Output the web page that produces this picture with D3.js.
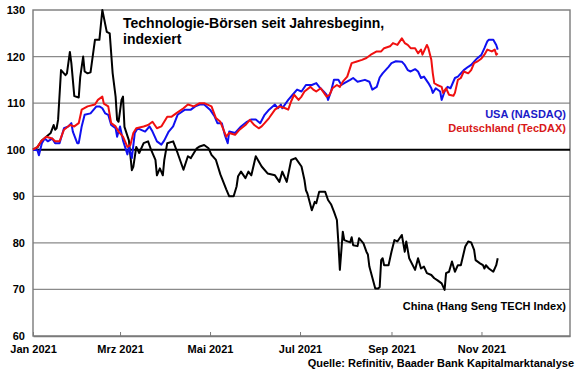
<!DOCTYPE html>
<html>
<head>
<meta charset="utf-8">
<script src="https://cdn.jsdelivr.net/npm/d3@7"></script>
<style>
  body { margin: 0; background: #fff; }
  svg text { font-family: Arial, "Liberation Sans", sans-serif; font-weight: bold; }
</style>
</head>
<body>
<svg id="chart" width="580" height="375"></svg>
<script>
// Werte (Index, 1.1.2021 = 100)
const chinaDates = ['01-01', '01-04', '01-07', '01-10', '01-13', '01-15', '01-16', '01-17', '01-18', '01-20', '01-23', '01-24', '01-26', '01-27', '01-29',
  '02-01', '02-02', '02-04', '02-05', '02-07', '02-09', '02-12', '02-15', '02-17', '02-20', '02-22', '02-24', '02-26', '02-27', '02-28',
  '03-02', '03-03', '03-04', '03-07', '03-09', '03-10', '03-12', '03-14', '03-17', '03-20', '03-22', '03-25', '03-26', '03-28', '03-30', '03-31',
  '04-02', '04-06', '04-09', '04-13', '04-16', '04-18', '04-22', '04-24', '04-27', '04-30',
  '05-02', '05-05', '05-08', '05-12', '05-14', '05-17', '05-19', '05-20', '05-22', '05-25', '05-27', '05-29',
  '06-01', '06-05', '06-09', '06-14', '06-17', '06-19', '06-22', '06-25', '06-28',
  '07-02', '07-04', '07-05', '07-06', '07-09', '07-11', '07-12', '07-14', '07-18', '07-20', '07-22', '07-24', '07-26', '07-27', '07-28', '07-30', '07-31',
  '08-04', '08-05', '08-06', '08-09', '08-10', '08-13', '08-15', '08-16', '08-17', '08-21', '08-23', '08-24', '08-25', '08-26', '08-27', '08-30',
  '09-01', '09-03', '09-05', '09-08', '09-10', '09-11', '09-13', '09-17', '09-19', '09-21', '09-23', '09-25', '09-28', '09-30',
  '10-02', '10-05', '10-07', '10-08', '10-10', '10-12', '10-14', '10-16', '10-18', '10-21', '10-23', '10-25', '10-27', '10-28', '10-31',
  '11-02', '11-03', '11-04', '11-06', '11-09', '11-11', '11-12']
const chinaValues = [100, 100.5, 102, 102.8, 103.6, 105.3, 104.3, 104.6, 106.4, 117.1, 116, 116.4, 121, 118.6, 111.5,
  111.2, 115.6, 120, 116.8, 116.4, 116.6, 123.6, 123.6, 130, 125.3, 125, 116.4, 111.4, 106.4, 106,
  110.7, 111.4, 104.9, 102, 95.6, 96.3, 100.6, 99.3, 101.4, 101.8, 100, 97.8, 94.5, 96, 94.5, 97.8,
  101.4, 101.8, 99.3, 95.7, 98.6, 98.2, 100.3, 100.7, 101, 100.3,
  98.9, 97.8, 94.7, 91.5, 90, 90, 92.1, 94.3, 95.3, 93.9, 95.3, 94.5,
  98.6, 96.4, 94.9, 94.5, 93.1, 95.3, 93.1, 97.8, 98.2,
  96.4, 93.5, 91.3, 90.6, 87, 88.8, 88.5, 91, 91, 89.2, 88.3, 86.7, 84.9, 80, 74.2, 82.4, 80.6,
  80.1, 81.2, 79.5, 79.3, 81, 79.9, 78.1, 77.5, 74.9, 70.2, 70.2, 70.5, 76.3, 76.7, 75.2, 75.2,
  78.1, 80.6, 80.3, 81.7, 78.1, 80.3, 76.7, 74.2, 76.7, 74.5, 74.9, 73.5, 73.1, 72.4,
  72, 71.3, 69.9, 73.5, 73.8, 76, 73.8, 75.2, 75.2, 79.2, 80.3, 80.1, 78.5, 76.3, 75.6,
  75.2, 74.5, 75.2, 74.5, 73.8, 75.2, 76.7]

const usaDates = ['01-01', '01-04', '01-05', '01-07', '01-09', '01-11', '01-14', '01-16', '01-19', '01-22', '01-25', '01-27', '01-28', '01-31',
  '02-01', '02-03', '02-05', '02-09', '02-13', '02-15', '02-17', '02-19', '02-21', '02-23', '02-26', '02-27',
  '03-01', '03-03', '03-06', '03-07', '03-09', '03-11', '03-13', '03-18', '03-21', '03-23', '03-26', '03-29', '03-31',
  '04-03', '04-06', '04-09', '04-14', '04-18', '04-21', '04-24', '04-27',
  '05-01', '05-04', '05-06', '05-09', '05-11', '05-13', '05-14', '05-18', '05-20', '05-22', '05-26', '05-29',
  '06-01', '06-04', '06-07', '06-10', '06-14', '06-16', '06-18', '06-19', '06-23', '06-26', '06-29',
  '07-02', '07-05', '07-09', '07-12', '07-14', '07-17', '07-19', '07-20', '07-22', '07-24', '07-27', '07-29', '07-31',
  '08-04', '08-06', '08-09', '08-14', '08-17', '08-19', '08-22', '08-24', '08-26', '08-30',
  '09-01', '09-04', '09-08', '09-10', '09-12', '09-14', '09-17', '09-19', '09-21', '09-23', '09-26', '09-28', '09-29',
  '10-01', '10-04', '10-05', '10-07', '10-09', '10-11', '10-14', '10-16', '10-18', '10-20', '10-23', '10-25', '10-27', '10-29',
  '11-01', '11-03', '11-05', '11-06', '11-09', '11-11', '11-12']
const usaValues = [100, 99.9, 98.8, 101.4, 102.4, 101.8, 102.4, 101.4, 101.4, 104.6, 105, 105.7, 103.9, 101.4,
  101.4, 105, 107.5, 107.8, 109.3, 109.3, 108.9, 107.8, 107.5, 105.3, 104.6, 102.8,
  105, 102, 99, 100.6, 98.2, 103.6, 104.6, 103.9, 105, 103.9, 101.8, 101.1, 102,
  103.9, 105, 107.5, 108.6, 108.6, 109.3, 109.7, 109.7,
  108.6, 107.2, 105.7, 105.7, 103.2, 101.4, 103.9, 103.6, 104.3, 105, 106, 106.5,
  106.5, 105.7, 107.5, 108.6, 109.7, 108.9, 109.7, 108.9, 110.7, 111.8, 112.9,
  112.5, 113.9, 113.9, 114.3, 113.5, 112.5, 111.8, 110.7, 112.5, 115, 115, 113.9, 114.3,
  115, 115.4, 114.6, 115, 114.6, 112.9, 113.5, 115.5, 116.4, 117.8,
  118.6, 119, 118.9, 118.2, 117.1, 116.8, 117.3, 116.8, 115.4, 115.7, 114.3, 113.2, 112.2,
  113.2, 112.5, 110.7, 112.5, 113.5, 113.2, 115.4, 115.7, 116.4, 117.1, 117.8, 118.2, 118.9, 119.6,
  120.4, 121.8, 123.3, 123.6, 123.6, 122.5, 121.5]

const germanyDates = ['01-01', '01-04', '01-07', '01-10', '01-14', '01-16', '01-19', '01-22', '01-26', '01-29',
  '02-01', '02-03', '02-07', '02-12', '02-14', '02-17', '02-18', '02-21', '02-23', '02-26', '02-28',
  '03-03', '03-06', '03-08', '03-10', '03-12', '03-17', '03-20', '03-23', '03-26', '03-29',
  '04-02', '04-05', '04-08', '04-13', '04-16', '04-20', '04-24', '04-27',
  '05-02', '05-05', '05-08', '05-12', '05-14', '05-18', '05-21', '05-25', '05-28', '05-31',
  '06-03', '06-05', '06-07', '06-10', '06-14', '06-17', '06-21', '06-23', '06-25', '06-27', '06-30',
  '07-02', '07-04', '07-08', '07-10', '07-12', '07-15', '07-19', '07-21', '07-23', '07-26', '07-28', '07-30',
  '08-02', '08-05', '08-08', '08-12', '08-15', '08-18', '08-22', '08-25', '08-27', '08-31',
  '09-02', '09-05', '09-08', '09-10', '09-12', '09-14', '09-17', '09-19', '09-21', '09-22', '09-25', '09-26', '09-28', '09-29', '09-30',
  '10-02', '10-05', '10-06', '10-08', '10-10', '10-13', '10-14', '10-16', '10-18', '10-20', '10-23', '10-25', '10-27', '10-29',
  '11-01', '11-03', '11-05', '11-08', '11-10', '11-11', '11-12']
const germanyValues = [100, 100.6, 102, 102.8, 102.4, 101.8, 101.8, 104.3, 105.3, 105,
  105.7, 108.6, 109.3, 109.7, 110.7, 111.4, 109.9, 109.3, 105.7, 105, 103.9,
  102.8, 100.6, 101, 103.6, 104.6, 105, 105.3, 106, 104.6, 105,
  107.1, 107.1, 107.8, 108.9, 109.7, 109.3, 110, 110,
  109.3, 106.8, 106, 102.8, 103.6, 103.2, 104.3, 105.3, 106.4, 105.3,
  104.6, 105, 105.7, 106.8, 108.6, 109.3, 108.9, 108.6, 110.4, 111.8, 110.7,
  111.4, 112.5, 113.5, 112.9, 112.5, 113.2, 111.4, 111.8, 113.2, 113.9, 113.5, 114.6,
  115.7, 118.6, 118.9, 119.3, 119.7, 120.4, 121.1, 121.1, 121.8, 122.2,
  122.9, 122.5, 123.9, 122.9, 122.5, 121.8, 121.8, 120.7, 121.5, 120.4, 122.5, 121.8, 119.3, 116.4, 114.3,
  113.9, 113.5, 112.2, 113.2, 111.8, 111.6, 112.2, 115, 115.4, 116.8, 116.4, 117.1, 118.6, 118.9,
  119.6, 120.4, 121.5, 121.1, 121.5, 120.4, 120.7]

const yTicks = [60, 70, 80, 90, 100, 110, 120, 130]
const xTickDates = ['01-01', '03-01', '05-01', '07-01', '09-01', '11-01']
const xTickLabels = ['Jan 2021', 'Mrz 2021', 'Mai 2021', 'Jul 2021', 'Sep 2021', 'Nov 2021']

const parseDate = s => d3.timeParse('%Y-%m-%d')('2021-' + s)
const toPoints = (dates, values) => dates.map((d, i) => ({ date: parseDate(d), value: values[i] }))

const svg = d3.select('#chart')
const plotLeft = 33
const plotRight = 570
const plotTop = 10
const plotBottom = 336

const xScale = d3.scaleTime()
  .domain([parseDate('01-01'), parseDate('12-31')])
  .range([plotLeft, plotRight])

const yScale = d3.scaleLinear()
  .domain([60, 130])
  .range([plotBottom, plotTop])

// Gitterlinien
svg.append('g')
  .selectAll('line')
  .data(yTicks.filter(t => t !== 60 && t !== 100 && t !== 130))
  .join('line')
  .attr('x1', plotLeft)
  .attr('x2', plotRight)
  .attr('y1', d => yScale(d))
  .attr('y2', d => yScale(d))
  .attr('stroke', '#8a8a8a')
  .attr('stroke-width', 1.2)

// Rahmen
svg.append('rect')
  .attr('x', plotLeft)
  .attr('y', plotTop)
  .attr('width', plotRight - plotLeft)
  .attr('height', plotBottom - plotTop)
  .attr('fill', 'none')
  .attr('stroke', '#7a7a7a')
  .attr('stroke-width', 1.4)

// Y-Achse
const yAxis = svg.append('g')
  .attr('transform', `translate(${plotLeft},0)`)
  .call(d3.axisLeft(yScale).tickValues(yTicks).tickSize(0).tickPadding(8))
yAxis.select('.domain').remove()
yAxis.selectAll('text').style('font-size', '11px').attr('fill', '#000')

// X-Achse
const xAxis = svg.append('g')
  .attr('transform', `translate(0,${plotBottom})`)
  .call(d3.axisBottom(xScale)
    .tickValues(xTickDates.map(parseDate))
    .tickFormat((d, i) => xTickLabels[i])
    .tickSizeInner(-4)
    .tickSizeOuter(0)
    .tickPadding(9))
xAxis.select('.domain').attr('stroke', '#7a7a7a').attr('stroke-width', 1.4)
xAxis.selectAll('.tick line').attr('stroke', '#7a7a7a')
xAxis.selectAll('text').style('font-size', '11px').attr('fill', '#000')

// 100-Linie
svg.append('line')
  .attr('x1', plotLeft)
  .attr('x2', plotRight)
  .attr('y1', yScale(100))
  .attr('y2', yScale(100))
  .attr('stroke', '#000')
  .attr('stroke-width', 2)

const line = d3.line()
  .x(d => xScale(d.date))
  .y(d => yScale(d.value))

const series = [
  { points: toPoints(chinaDates, chinaValues), color: '#000000' },
  { points: toPoints(usaDates, usaValues), color: '#1010f0' },
  { points: toPoints(germanyDates, germanyValues), color: '#f01010' }
]

svg.append('g')
  .selectAll('path')
  .data(series)
  .join('path')
  .attr('d', d => line(d.points))
  .attr('fill', 'none')
  .attr('stroke', d => d.color)
  .attr('stroke-width', 2)
  .attr('stroke-linejoin', 'round')

// Titel
const title = svg.append('text')
  .attr('x', 123)
  .attr('y', 28)
  .style('font-size', '14px')
  .attr('fill', '#000')
title.append('tspan').attr('x', 123).text('Technologie-Börsen seit Jahresbeginn,')
title.append('tspan').attr('x', 123).attr('dy', 15.5).text('indexiert')

// Beschriftungen
const labels = [
  { text: 'USA (NASDAQ)', y: 118, color: '#1a1ac8' },
  { text: 'Deutschland (TecDAX)', y: 132, color: '#d81818' },
  { text: 'China (Hang Seng TECH Index)', y: 310, color: '#000' }
]
svg.append('g')
  .selectAll('text')
  .data(labels)
  .join('text')
  .attr('x', 566)
  .attr('y', d => d.y)
  .attr('text-anchor', 'end')
  .style('font-size', '11px')
  .attr('fill', d => d.color)
  .text(d => d.text)

svg.append('text')
  .attr('x', 574)
  .attr('y', 367)
  .attr('text-anchor', 'end')
  .style('font-size', '11px')
  .attr('fill', '#000')
  .text('Quelle: Refinitiv, Baader Bank Kapitalmarktanalyse')
</script>
</body>
</html>
